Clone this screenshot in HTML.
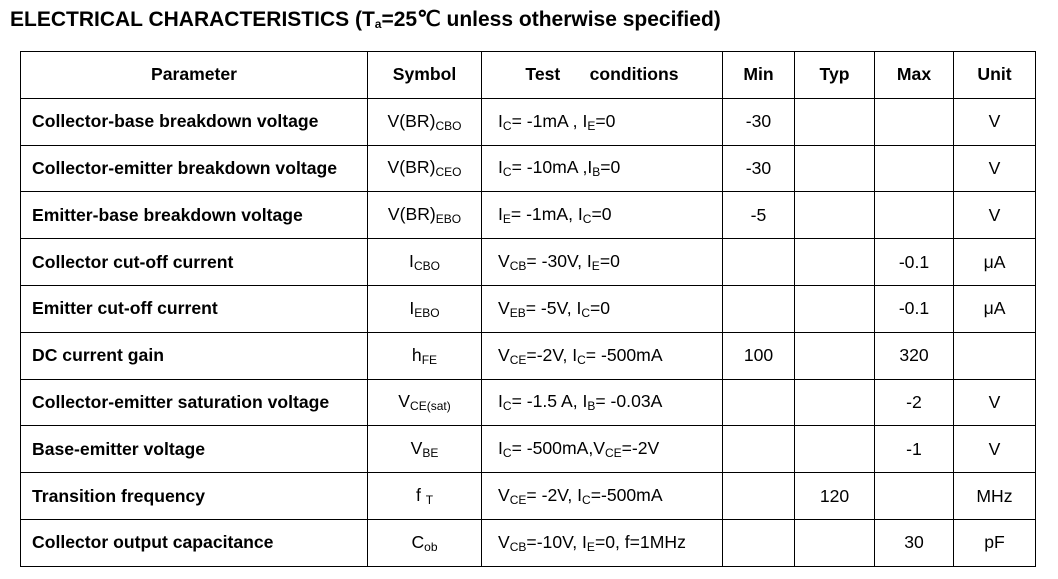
<!DOCTYPE html>
<html><head><meta charset="utf-8"><style>
body{margin:0;width:1058px;height:579px;background:#fff;font-family:"Liberation Sans",Arial,sans-serif;color:#000;position:relative;overflow:hidden}
.t{position:absolute;left:10px;top:7px;font-weight:bold;font-size:21px;white-space:nowrap}
.t sub{font-size:12px;vertical-align:-2px}
table{position:absolute;left:20px;top:51px;border-collapse:collapse;table-layout:fixed;font-size:17.6px}
td{border:1.5px solid #000;height:45.8px;padding:0;text-align:center;white-space:nowrap}
td.p{text-align:left;padding-left:11px;font-weight:bold}
td.c{text-align:left;padding-left:16px}
tr.h td{font-weight:bold}
sub{font-size:12px;vertical-align:-3px}
</style></head><body>
<div class="t">ELECTRICAL CHARACTERISTICS (T<sub>a</sub>=25℃ unless otherwise specified)</div>
<table>
<colgroup><col style="width:347px"><col style="width:114px"><col style="width:241px"><col style="width:72px"><col style="width:80px"><col style="width:79px"><col style="width:82px"></colgroup>
<tr class="h"><td>Parameter</td><td>Symbol</td><td>Test&nbsp;&nbsp;&nbsp;&nbsp;&nbsp; conditions</td><td>Min</td><td>Typ</td><td>Max</td><td>Unit</td></tr>
<tr><td class="p">Collector-base breakdown voltage</td><td>V(BR)<sub>CBO</sub></td><td class="c">I<sub>C</sub>= -1mA , I<sub>E</sub>=0</td><td>-30</td><td></td><td></td><td>V</td></tr>
<tr><td class="p">Collector-emitter breakdown voltage</td><td>V(BR)<sub>CEO</sub></td><td class="c">I<sub>C</sub>= -10mA ,I<sub>B</sub>=0</td><td>-30</td><td></td><td></td><td>V</td></tr>
<tr><td class="p">Emitter-base breakdown voltage</td><td>V(BR)<sub>EBO</sub></td><td class="c">I<sub>E</sub>= -1mA, I<sub>C</sub>=0</td><td>-5</td><td></td><td></td><td>V</td></tr>
<tr><td class="p">Collector cut-off current</td><td>I<sub>CBO</sub></td><td class="c">V<sub>CB</sub>= -30V, I<sub>E</sub>=0</td><td></td><td></td><td>-0.1</td><td>μA</td></tr>
<tr><td class="p">Emitter cut-off current</td><td>I<sub>EBO</sub></td><td class="c">V<sub>EB</sub>= -5V, I<sub>C</sub>=0</td><td></td><td></td><td>-0.1</td><td>μA</td></tr>
<tr><td class="p">DC current gain</td><td>h<sub>FE</sub></td><td class="c">V<sub>CE</sub>=-2V, I<sub>C</sub>= -500mA</td><td>100</td><td></td><td>320</td><td></td></tr>
<tr><td class="p">Collector-emitter saturation voltage</td><td>V<sub>CE(sat)</sub></td><td class="c">I<sub>C</sub>= -1.5 A, I<sub>B</sub>= -0.03A</td><td></td><td></td><td>-2</td><td>V</td></tr>
<tr><td class="p">Base-emitter voltage</td><td>V<sub>BE</sub></td><td class="c">I<sub>C</sub>= -500mA,V<sub>CE</sub>=-2V</td><td></td><td></td><td>-1</td><td>V</td></tr>
<tr><td class="p">Transition frequency</td><td>f <sub>T</sub></td><td class="c">V<sub>CE</sub>= -2V, I<sub>C</sub>=-500mA</td><td></td><td>120</td><td></td><td>MHz</td></tr>
<tr><td class="p">Collector output capacitance</td><td>C<sub>ob</sub></td><td class="c">V<sub>CB</sub>=-10V, I<sub>E</sub>=0, f=1MHz</td><td></td><td></td><td>30</td><td>pF</td></tr>
</table>
</body></html>
